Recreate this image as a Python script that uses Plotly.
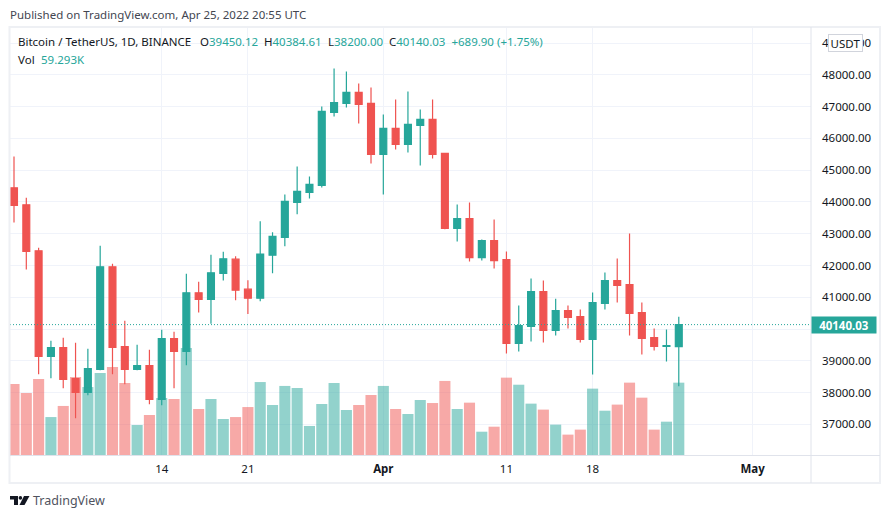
import pandas as pd
import plotly.graph_objects as go

dates = pd.date_range("2022-03-02", periods=55).strftime("%Y-%m-%d").tolist()
opens = [44445,43910,42464,39142,39414,38440,38010,38733,41961,39446,38733,38848,37790,39697,39299,41143,40934,41751,
         42199,41256,40973,42325,42886,43986,44300,44521,46816,47099,47445,47099,45495,46313,45810,46407,46596,45527,
         43169,43476,42250,42784,42187,39546,40080,41181,39955,40584,40395,39672,40804,41527,41401,40521,39735,39452,39450.12]
highs = [45430,44130,42558,39634,39729,39571,39383,42621,42055,40263,39509,39351,39980,39917,41741,41489,42338,42432,
         42293,41539,43389,43043,44238,45118,44804,47004,48199,48105,47728,47602,46753,47224,47476,46910,47224,45527,
         43916,43979,42816,43445,42438,40741,41590,41527,40950,40741,40615,41149,41778,42218,43004,40835,40018,39986,40384.61]
lows = [43355,41877,38576,38450,38136,37192,37915,38700,38576,38261,38700,37633,37601,38136,38859,40525,40169,41531,
        40910,40470,40879,41759,42603,43609,44112,44458,46690,46973,46470,45212,44238,45652,45558,45149,45370,43137,
        42753,42124,42155,41904,39232,39294,39609,39577,39797,40018,39577,38571,40615,40835,39797,39200,39326,38980,38200.00]
closes = [43889,42443,39142,39414,38419,38010,38754,41961,39424,38733,38848,37790,39697,39299,41143,40934,41772,42212,
          41224,40973,42356,42917,44018,44332,44552,46847,47130,47445,47067,45495,46313,45810,46439,46596,45495,43169,
          43476,42250,42784,42155,39546,40112,41181,39955,40584,40364,39672,40835,41527,41370,40489,39703,39452,39483,40140.03]
volumes = [58.2,50.8,62.3,31.1,40.2,63.9,55.7,67.2,72.1,59.0,24.6,32.8,46.7,45.9,87.7,37.7,45.9,29.5,
           31.1,39.3,59.8,41.0,56.6,54.9,23.8,41.8,59.0,36.9,41.0,49.2,56.6,37.7,33.6,45.1,42.6,60.7,
           37.7,42.9,19.1,23.2,63.4,57.6,42.1,37.2,24.9,16.7,20.8,54.4,36.3,41.3,59.3,47.0,20.8,27.3,59.293]
x_tick_vals = ["2022-03-14","2022-03-21","2022-04-01","2022-04-11","2022-04-18","2022-05-01"]
x_tick_text = ["14","21","<b>Apr</b>","11","18","<b>May</b>"]
y_tick_vals = [37000,38000,39000,40000,41000,42000,43000,44000,45000,46000,47000,48000,49000]
y_tick_text = ["37000.00","38000.00","39000.00","","41000.00","42000.00","43000.00","44000.00","45000.00",
               "46000.00","47000.00","48000.00","49000.00"]
last_price = 40140.03

UP, DOWN = "#26a69a", "#ef5350"
UP_VOL, DOWN_VOL = "rgba(38,166,154,0.5)", "rgba(239,83,80,0.5)"
FONT = "Noto Sans, Open Sans, sans-serif"
FS = 11.5
TEXT = "#131722"
L, R, T, B = 10, 811, 27, 455
W, H = 890, 518
def px(x): return (x - L) / (R - L)
def py(y): return (B - y) / (B - T)

fig = go.Figure()
fig.add_trace(go.Bar(x=dates, y=volumes, yaxis="y2", hoverinfo="skip", showlegend=False,
                     marker=dict(color=[UP_VOL if c >= o else DOWN_VOL for o, c in zip(opens, closes)], line_width=0)))
fig.add_trace(go.Candlestick(x=dates, open=opens, high=highs, low=lows, close=closes, showlegend=False,
                             whiskerwidth=0, hoverinfo="skip",
                             increasing=dict(line=dict(color=UP, width=1.2), fillcolor=UP),
                             decreasing=dict(line=dict(color=DOWN, width=1.2), fillcolor=DOWN)))

def line(x0, y0, x1, y1, color, width):
    return dict(type="line", xref="paper", yref="paper", x0=px(x0), y0=py(y0), x1=px(x1), y1=py(y1),
                line=dict(color=color, width=width), layer="above")

LOGO = [[(10,496),(18,496),(18,505),(14,505),(14,499.5),(10,499.5)],
        [(24,496),(29.5,496),(24.5,505),(19.5,505)]]
shapes = [
    dict(type="line", xref="paper", yref="y", x0=0, x1=1, y0=last_price, y1=last_price,
         line=dict(color=UP, width=1, dash="1px,2px"), layer="above"),
    line(9, 27, 880, 27, "#eef0f4", 2), line(9, 483, 880, 483, "#eef0f4", 2),
    line(9.5, 26, 9.5, 484, "#eef0f4", 2), line(880, 26, 880, 484, "#eef0f4", 2),
    line(811, 27, 811, 483, "#e0e3eb", 1), line(10, 455.5, 880, 455.5, "#e0e3eb", 1),
]
for poly in LOGO:
    d = "M" + " L".join(f"{px(a)},{py(b)}" for a, b in poly) + " Z"
    shapes.append(dict(type="path", path=d, xref="paper", yref="paper", fillcolor=TEXT, line_width=0, layer="above"))
shapes.append(dict(type="circle", xref="paper", yref="paper", x0=px(18.6), x1=px(22.2), y0=py(499.7), y1=py(496.1),
                   fillcolor=TEXT, line_width=0, layer="above"))

def note(x, y, text, size=FS, color=TEXT, xanchor="left", **kw):
    return dict(xref="paper", yref="paper", x=px(x - 2), y=py(y), text=text, showarrow=False, xanchor=xanchor,
                yanchor="middle", font=dict(family=FONT, size=size, color=color), **kw)

def val(s): return f"<span style='color:{UP}'>{s}</span>"
annotations = [
    note(10, 14.5, "Published on TradingView.com, Apr 25, 2022 20:55 UTC", color="#434651"),
    note(18, 41.5, "Bitcoin / TetherUS, 1D, BINANCE"),
    note(200, 41.5, "O" + val("39450.12")),
    note(264, 41.5, "H" + val("40384.61")),
    note(328, 41.5, "L" + val("38200.00")),
    note(389, 41.5, "C" + val("40140.03") + val("  +689.90 (+1.75%)")),
    note(18, 59, "Vol"),
    note(41, 59, val("59.293K")),
    note(33, 500, "TradingView", size=12.5, color="#50535e"),
    note(847, 42.5, "USDT", color=TEXT, xanchor="center", bgcolor="#ffffff", bordercolor="#d1d4dc",
         borderwidth=1, borderpad=0, width=33, height=16),
    dict(xref="paper", yref="y", x=px(811), y=last_price, text=f"<b>{last_price:.2f}</b>", showarrow=False,
         xanchor="left", yanchor="middle", bgcolor=UP, borderpad=0, width=64, height=16, align="center",
         font=dict(family=FONT, size=FS, color="#ffffff")),
]

fig.update_layout(
    width=W, height=H, autosize=False, paper_bgcolor="#ffffff", plot_bgcolor="#ffffff",
    margin=dict(l=L, r=W - R, t=T, b=H - B, pad=0), showlegend=False, bargap=0.1, boxgap=0.2,
    hovermode=False, font=dict(family=FONT, size=FS, color=TEXT), shapes=shapes, annotations=annotations,
    xaxis=dict(type="date", range=["2022-03-01 16:12", "2022-05-05 17:46"], rangeslider=dict(visible=False),
               tickmode="array", tickvals=x_tick_vals, ticktext=x_tick_text, tickangle=0,
               showgrid=True, gridcolor="#f0f3fa", gridwidth=1, zeroline=False, showline=False,
               ticks="", tickfont=dict(family=FONT, size=FS, color=TEXT), ticklabelstandoff=5),
    yaxis=dict(side="right", range=[36037, 49505], tickmode="array", tickvals=y_tick_vals, ticktext=y_tick_text,
               showgrid=True, gridcolor="#f0f3fa", gridwidth=1, zeroline=False, showline=False, ticks="",
               tickfont=dict(family=FONT, size=FS, color=TEXT), ticklabelstandoff=10),
    yaxis2=dict(overlaying="y", side="right", range=[0, 350.8], visible=False, showgrid=False, zeroline=False),
)
fig.write_html("out.html", config=dict(displayModeBar=False), post_script="document.body.style.margin='0';")
